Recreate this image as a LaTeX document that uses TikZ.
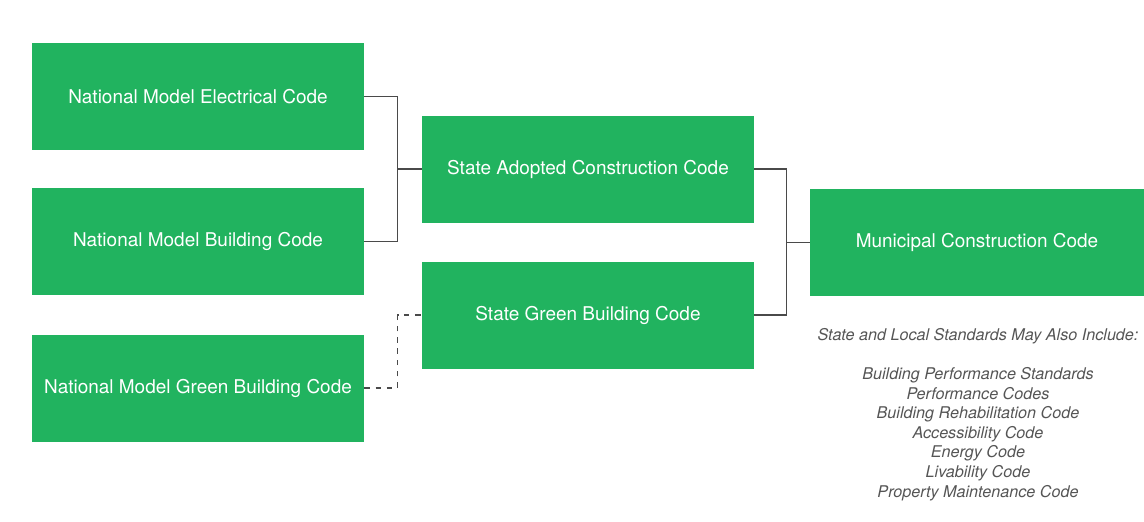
\documentclass[tikz,border=0pt]{standalone}
\usepackage{fontspec}
\setmainfont{TeX Gyre Heros}
\definecolor{codegreen}{HTML}{21B35F}
\definecolor{linkgray}{HTML}{4A4A4A}
\definecolor{notegray}{HTML}{555555}
\usetikzlibrary{positioning,calc}
\tikzset{codebox/.style={fill=codegreen,text=white,align=center,minimum width=8.3cm,minimum height=2.675cm,font=\fontsize{13.5}{15}\selectfont},link/.style={draw=linkgray,line width=0.9pt},dlink/.style={link,dash pattern=on 4pt off 4pt},note/.style={font=\fontsize{11.5}{13.9}\selectfont\itshape,align=center,text=notegray}}
\begin{document}
\begin{tikzpicture}
\useasboundingbox (0,0) rectangle (28.6,-13.05);
\node[codebox] (elec) at (4.95,-2.41) {National Model Electrical Code};
\node[codebox] (bldg) at (4.95,-6.04) {National Model Building Code};
\node[codebox] (ngreen) at (4.95,-9.70) {National Model Green Building Code};
\node[codebox] (state) at (14.7,-4.225) {State Adopted Construction Code};
\node[codebox] (sgreen) at (14.7,-7.875) {State Green Building Code};
\node[codebox,minimum width=8.35cm] (muni) at (24.425,-6.06) {Municipal Construction Code};
% junctions
\coordinate (j1) at ($(state.west)+(-0.6,0)$);
\coordinate (j2) at ($(sgreen.west)+(-0.6,0)$);
\coordinate (j3) at ($(muni.west)+(-0.575,0)$);
\draw[link] (elec.east) -| (j1) |- (bldg.east);\draw[link] (j1)--(state.west);
\draw[dlink] (ngreen.east) -| (j2) -- (sgreen.west);
\draw[link] (state.east) -| (j3) |- (sgreen.east);\draw[link] (j3)--(muni.west);
\node[note] (incl) at (24.45,-8.4) {State and Local Standards May Also Include:};
\node[note,below=0.35cm of incl] (list) {Building Performance Standards\\Performance Codes\\Building Rehabilitation Code\\Accessibility Code\\Energy Code\\Livability Code\\Property Maintenance Code};
\end{tikzpicture}
\end{document}
